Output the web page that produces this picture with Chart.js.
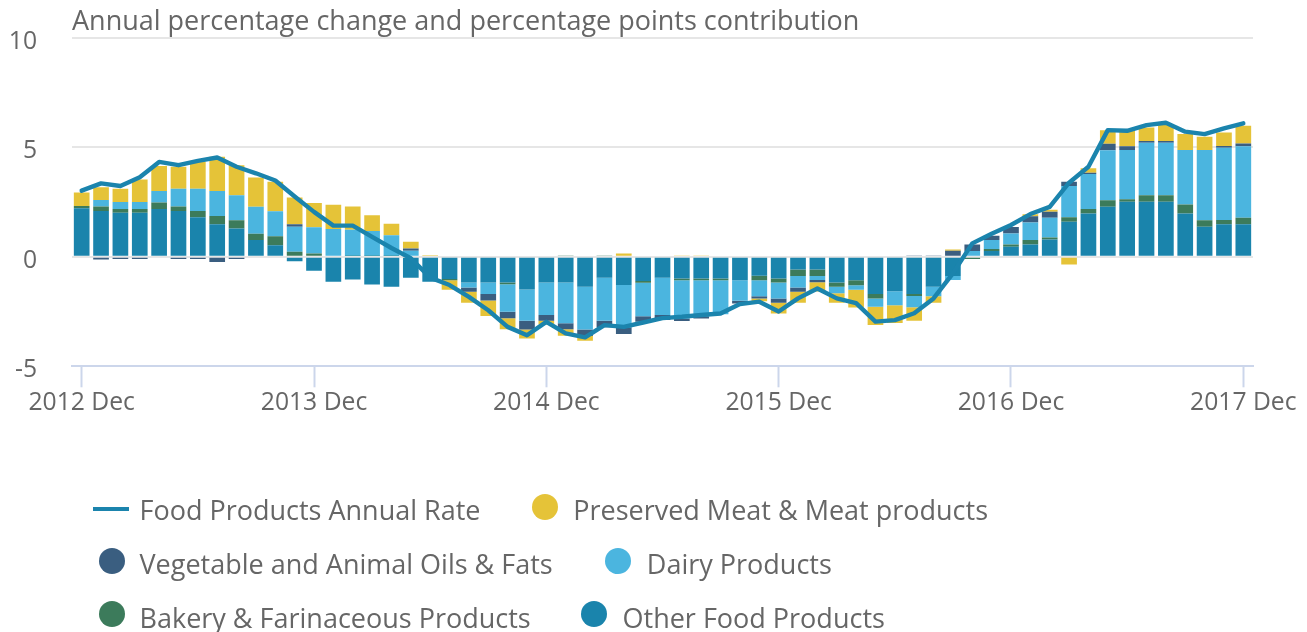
<!DOCTYPE html>
<html><head><meta charset="utf-8">
<script src="https://cdn.jsdelivr.net/npm/chart.js@4.4.1/dist/chart.umd.min.js"></script>
<style>
html,body{margin:0;padding:0;background:#fff;}
#wrap{position:relative;width:1307px;height:632px;overflow:hidden;font-family:"Open Sans",sans-serif;}
#c{position:absolute;left:0;top:0;}
.lt{position:absolute;font-size:27px;line-height:37px;color:#666;white-space:nowrap;}
.dot{position:absolute;width:26.4px;height:26.4px;border-radius:50%;}
.ln{position:absolute;width:36px;height:4.4px;}
</style></head><body>
<div id="wrap"><canvas id="c" width="1307" height="632"></canvas><div id="legend"></div></div>
<script>
const yTitle = "Annual percentage change and percentage points contribution";
const categories = [
 "2012 Dec",
 "2013 Jan","2013 Feb","2013 Mar","2013 Apr","2013 May","2013 Jun","2013 Jul","2013 Aug","2013 Sep","2013 Oct","2013 Nov","2013 Dec",
 "2014 Jan","2014 Feb","2014 Mar","2014 Apr","2014 May","2014 Jun","2014 Jul","2014 Aug","2014 Sep","2014 Oct","2014 Nov","2014 Dec",
 "2015 Jan","2015 Feb","2015 Mar","2015 Apr","2015 May","2015 Jun","2015 Jul","2015 Aug","2015 Sep","2015 Oct","2015 Nov","2015 Dec",
 "2016 Jan","2016 Feb","2016 Mar","2016 Apr","2016 May","2016 Jun","2016 Jul","2016 Aug","2016 Sep","2016 Oct","2016 Nov","2016 Dec",
 "2017 Jan","2017 Feb","2017 Mar","2017 Apr","2017 May","2017 Jun","2017 Jul","2017 Aug","2017 Sep","2017 Oct","2017 Nov","2017 Dec"
];
const yTicks = [-5, 0, 5, 10];

const annualRate = [3.02,3.35,3.23,3.63,4.33,4.18,4.38,4.53,4.11,3.81,3.48,2.75,2.05,1.42,1.42,0.91,0.4,-0.07,-0.95,
 -1.29,-1.83,-2.44,-3.2,-3.58,-2.97,-3.5,-3.68,-3.12,-3.2,-3.0,-2.8,-2.74,-2.66,-2.59,-2.16,-2.05,-2.5,-1.9,
 -1.45,-1.9,-2.12,-2.96,-2.89,-2.58,-1.9,
 -0.76,0.61,1.05,1.45,1.95,2.28,3.38,4.11,5.78,5.75,6.01,6.12,5.71,5.6,5.86,6.09];
const meat = [0.61,0.58,0.61,1.03,1.14,1.0,1.23,1.57,1.37,1.34,1.34,1.22,1.11,1.11,1.07,0.72,0.53,0.3,0.07,
 -0.43,-0.5,-0.7,-0.5,-0.41,-0.17,-0.3,-0.21,0,0.15,0,0,0.06,0.06,0,0,-0.12,-0.49,-0.5,
 -0.43,-0.43,-0.82,-0.84,-0.81,-0.61,-0.3,
 0.06,0,0,0,0.09,0.1,-0.35,0.2,0.61,0.7,0.62,0.73,0.73,0.61,0.61,0.81];
const oils = [0,-0.12,-0.1,-0.1,0,-0.1,-0.1,-0.24,-0.1,0,0,0.12,0,0,0,0,0,0.1,0,
 0,-0.2,-0.3,-0.3,-0.4,-0.26,-0.27,-0.3,-0.3,-0.3,-0.26,-0.23,-0.11,-0.11,0,-0.12,-0.11,-0.2,-0.2,
 -0.1,0,0,0,0,0.06,0.06,
 0.27,0.3,0.2,0.3,0.29,0.27,0.2,0.06,0.3,0.18,0.08,0.08,0,0,0.08,0.12];
const dairy = [0,0.3,0.32,0.32,0.52,0.82,1.02,1.14,1.14,1.23,1.14,1.14,1.2,1.22,1.19,1.14,0.94,0.28,0,
 0,-0.23,-0.53,-1.25,-1.43,-1.49,-1.87,-1.95,-1.96,-1.93,-1.52,-1.7,-1.75,-1.64,-1.55,-0.94,-0.73,-0.73,-0.52,
 -0.18,-0.3,-0.2,-0.38,-0.64,-0.52,-0.43,
 -0.18,0.26,0.41,0.5,0.8,0.9,1.43,1.6,2.28,2.25,2.39,2.39,2.48,3.2,3.3,3.27];
const bakery = [0.11,0.2,0.17,0.17,0.3,0.2,0.29,0.38,0.38,0.29,0.41,0.23,0.15,0.05,0.04,0.04,0.04,0,0,
 -0.05,0,0,-0.09,0,0,0.06,0,0.06,0,-0.08,0,-0.08,-0.08,-0.08,0,-0.2,-0.18,-0.3,
 -0.3,-0.2,-0.23,-0.2,0,-0.09,0,
 0,-0.1,0.09,0.1,0.2,0.09,0.2,0.2,0.3,0.11,0.3,0.3,0.41,0.3,0.2,0.3];
const other = [2.21,2.09,2.01,2.01,2.18,2.09,1.8,1.48,1.29,0.76,0.53,-0.2,-0.64,-1.14,-1.04,-1.27,-1.37,-0.96,-1.14,
 -1.02,-1.17,-1.17,-1.17,-1.49,-1.17,-1.17,-1.37,-0.96,-1.29,-1.11,-0.96,-0.99,-0.99,-0.99,-1.07,-0.87,-0.99,-0.58,
 -0.58,-1.17,-1.07,-1.7,-1.57,-1.7,-1.37,
 -0.88,0,0.26,0.46,0.56,0.79,1.6,1.98,2.28,2.51,2.51,2.51,1.98,1.37,1.48,1.48];

const seriesNames = ["Food Products Annual Rate","Preserved Meat & Meat products","Vegetable and Animal Oils & Fats","Dairy Products","Bakery & Farinaceous Products","Other Food Products"];
const colors = {rate:"#1b84ad", meat:"#e5c338", oils:"#3a5e80", dairy:"#4bb5df", bakery:"#3c7b5b", other:"#1a84ac"};

const FONT = '"Open Sans", sans-serif';

const titlePlugin = {
  id: 'ytitle',
  afterDraw(chart) {
    const ctx = chart.ctx;
    ctx.save();
    ctx.font = '27px ' + FONT;
    ctx.fillStyle = '#666666';
    ctx.textAlign = 'left';
    ctx.textBaseline = 'alphabetic';
    ctx.fillText(yTitle, chart.chartArea.left, 30);
    ctx.restore();
  }
};

const barDs = (label, data, color) => ({
  type: 'bar', label, data, backgroundColor: color, borderWidth: 0,
  stack: 'contrib', order: 1, barPercentage: 0.81, categoryPercentage: 1.0
});

new Chart(document.getElementById('c'), {
  data: {
    labels: categories,
    datasets: [
      { type: 'line', label: seriesNames[0], data: annualRate, borderColor: colors.rate, borderWidth: 4.4,
        pointRadius: 0, tension: 0, fill: false, stack: 'rate', order: 0,
        borderJoinStyle: 'round', borderCapStyle: 'round' },
      barDs(seriesNames[5], other, colors.other),
      barDs(seriesNames[4], bakery, colors.bakery),
      barDs(seriesNames[3], dairy, colors.dairy),
      barDs(seriesNames[2], oils, colors.oils),
      barDs(seriesNames[1], meat, colors.meat)
    ]
  },
  options: {
    responsive: false,
    animation: false,
    layout: { padding: { left: 0, right: 54, top: 37.7, bottom: 205.7 } },
    plugins: { legend: { display: false }, tooltip: { enabled: false }, title: { display: false } },
    scales: {
      x: {
        stacked: true,
        offset: true,
        grid: { offset: false, drawOnChartArea: false, drawTicks: true, tickLength: 21, tickColor: '#ccd6eb', tickWidth: 2 },
        border: { display: true, color: '#ccd6eb', width: 2 },
        ticks: {
          autoSkip: false, maxRotation: 0, minRotation: 0, padding: 1,
          color: '#666666', font: { family: FONT, size: 24.7 },
          callback: function(v, i) { const l = categories[i]; return l.endsWith('Dec') ? l : null; }
        },
        afterFit: (s) => { s.height = 60; }
      },
      y: {
        stacked: true,
        min: -5, max: 10,
        afterBuildTicks: (s) => { s.ticks = yTicks.map(v => ({ value: v })); },
        grid: { drawTicks: true, tickLength: 35, tickColor: 'rgba(0,0,0,0)', lineWidth: 2,
                color: (c) => (c.tick && c.tick.value === -5) ? 'rgba(0,0,0,0)' : '#e6e6e6' },
        border: { display: false },
        ticks: { color: '#666666', font: { family: FONT, size: 24.7 }, padding: 0, labelOffset: 4 },
        afterFit: (s) => { s.width = 72; }
      }
    }
  },
  plugins: [titlePlugin]
});

// HTML legend
const legendItems = [
  { name: seriesNames[0], kind: 'line', color: colors.rate, sx: 93.3, sy: 509.2, tx: 139.5, ty: 491.2 },
  { name: seriesNames[1], kind: 'dot', color: colors.meat, sx: 544.7, sy: 506.7, tx: 573.2, ty: 491.2 },
  { name: seriesNames[2], kind: 'dot', color: colors.oils, sx: 111.7, sy: 560.7, tx: 139.5, ty: 544.5 },
  { name: seriesNames[3], kind: 'dot', color: colors.dairy, sx: 618.3, sy: 560.7, tx: 646.8, ty: 544.5 },
  { name: seriesNames[4], kind: 'dot', color: colors.bakery, sx: 111.7, sy: 614.3, tx: 139.5, ty: 598.9 },
  { name: seriesNames[5], kind: 'dot', color: colors.other, sx: 594, sy: 614.3, tx: 622.5, ty: 598.9 }
];
const lg = document.getElementById('legend');
legendItems.forEach(it => {
  const s = document.createElement('div');
  if (it.kind === 'line') {
    s.className = 'ln';
    s.style.left = it.sx + 'px'; s.style.top = (it.sy - 2.2) + 'px';
  } else {
    s.className = 'dot';
    s.style.left = (it.sx - 13.2) + 'px'; s.style.top = (it.sy - 13.2) + 'px';
  }
  s.style.background = it.color;
  lg.appendChild(s);
  const t = document.createElement('div');
  t.className = 'lt';
  t.textContent = it.name;
  t.style.left = it.tx + 'px'; t.style.top = it.ty + 'px';
  lg.appendChild(t);
});
</script>
</body></html>
